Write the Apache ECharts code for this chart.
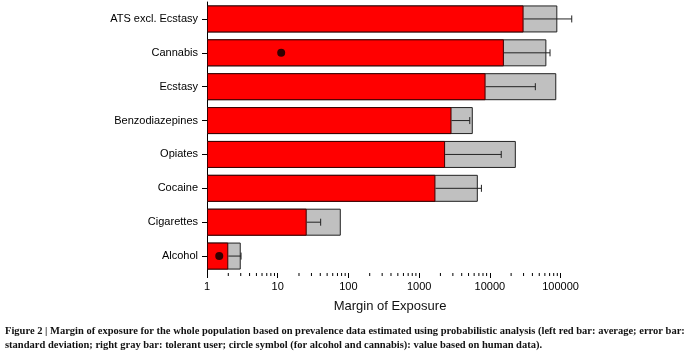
<!DOCTYPE html>
<html>
<head>
<meta charset="utf-8">
<script src="https://cdn.jsdelivr.net/npm/echarts@6/dist/echarts.min.js"></script>
<style>
  html, body { margin: 0; padding: 0; background: #fff; }
  #chart { width: 689px; height: 353px; }
</style>
</head>
<body>
<div id="chart"></div>
<script>
// substances, top to bottom
const categories = ['ATS excl. Ecstasy', 'Cannabis', 'Ecstasy', 'Benzodiazepines', 'Opiates', 'Cocaine', 'Cigarettes', 'Alcohol'];
// left red bar: average MOE
const averageMoe = [30000, 15800, 8700, 2870, 2330, 1700, 25.7, 2.0];
// right gray bar: tolerant user
const tolerantMoe = [90000, 63000, 87000, 5740, 23300, 6760, 78, 3.0];
// end of the error bar (average + standard deviation)
const errorUpper = [144000, 71000, 44000, 5200, 14500, 7600, 40.5, 3.03];
// circle symbol: value based on human data
const humanData = [null, 11.2, null, null, null, null, null, 1.49];

const xTicks = [1, 10, 100, 1000, 10000, 100000];
const minorSteps = [2, 3, 4, 5, 6, 7, 8, 9];

const caption1 = 'Figure 2 | Margin of exposure for the whole population based on prevalence data estimated using probabilistic analysis (left red bar: average; error bar:';
const caption2 = 'standard deviation; right gray bar: tolerant user; circle symbol (for alcohol and cannabis): value based on human data).';

// minor tick values 2..9 within each decade below the last labelled tick
const minorTicks = [];
xTicks.slice(0, -1).forEach(d => minorSteps.forEach(m => minorTicks.push([d * m, 0])));

const errorData = categories.map((c, i) => [errorUpper[i], i, averageMoe[i]]);
const dotData = [];
humanData.forEach((v, i) => { if (v != null) dotData.push([v, i]); });

const font = 'Liberation Sans, Arial, sans-serif';
const captionFont = 'bold 10.5px "Liberation Serif", "Times New Roman", serif';

const chart = echarts.init(document.getElementById('chart'));
chart.setOption({
  animation: false,
  grid: { left: 207, right: 116, top: 2, bottom: 80 },
  xAxis: {
    type: 'log',
    logBase: 10,
    min: 1,
    max: 150000,
    name: 'Margin of Exposure',
    nameLocation: 'middle',
    nameGap: 27,
    nameTextStyle: { fontFamily: font, fontSize: 13, color: '#111' },
    axisLine: { lineStyle: { color: '#000', width: 1 } },
    axisTick: { show: true, length: 5, inside: false, lineStyle: { color: '#000' } },
    axisLabel: {
      fontFamily: font, fontSize: 11, color: '#000', margin: 8,
      showMaxLabel: false,
      formatter: v => xTicks.indexOf(v) >= 0 ? String(v) : ''
    },
    splitLine: { show: false }
  },
  yAxis: {
    type: 'category',
    data: categories,
    inverse: true,
    axisLine: { lineStyle: { color: '#000', width: 1 } },
    axisTick: { show: true, alignWithLabel: true, length: 5, lineStyle: { color: '#000' } },
    axisLabel: { fontFamily: font, fontSize: 11, color: '#000', margin: 9 },
    splitLine: { show: false }
  },
  series: [
    {
      name: 'Tolerant user',
      type: 'bar',
      data: tolerantMoe,
      barWidth: 27,
      barGap: '-100%',
      itemStyle: { color: '#c0c0c0', borderColor: '#222', borderWidth: 1 }
    },
    {
      name: 'Average',
      type: 'bar',
      data: averageMoe,
      barWidth: 27,
      barGap: '-100%',
      itemStyle: { color: '#ff0000', borderColor: '#3a0000', borderWidth: 1 }
    },
    {
      name: 'SD',
      type: 'custom',
      data: errorData,
      z: 5,
      renderItem: (params, api) => {
        const end = api.coord([api.value(0), api.value(1)]);
        const start = api.coord([api.value(2), api.value(1)]);
        const style = { stroke: '#222', lineWidth: 1 };
        return {
          type: 'group',
          children: [
            { type: 'line', shape: { x1: start[0], y1: start[1], x2: end[0], y2: end[1] }, style },
            { type: 'line', shape: { x1: end[0], y1: end[1] - 3.5, x2: end[0], y2: end[1] + 3.5 }, style }
          ]
        };
      }
    },
    {
      name: 'Human data',
      type: 'scatter',
      data: dotData,
      symbol: 'circle',
      symbolSize: 8,
      z: 6,
      itemStyle: { color: '#000' }
    },
    {
      name: 'minor ticks',
      type: 'custom',
      data: minorTicks,
      silent: true,
      clip: false,
      renderItem: (params, api) => {
        const x = api.coord([api.value(0), 0])[0];
        const y = params.coordSys.y + params.coordSys.height;
        return { type: 'line', shape: { x1: x, y1: y, x2: x, y2: y + 3 }, style: { stroke: '#000', lineWidth: 1 } };
      }
    }
  ],
  graphic: [
    {
      type: 'text', left: 5, top: 326,
      style: { text: caption1, font: captionFont, fill: '#111' }
    },
    {
      type: 'text', left: 5, top: 340,
      style: { text: caption2, font: captionFont, fill: '#111' }
    }
  ]
});
</script>
</body>
</html>
